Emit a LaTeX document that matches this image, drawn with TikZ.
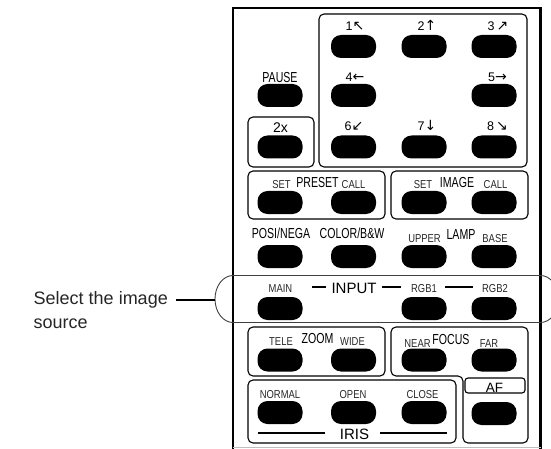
\documentclass[tikz,border=0pt]{standalone}
\usepackage{fontspec}
\setmainfont{Liberation Sans}
\newfontfamily\LabBigFam[FakeStretch=0.73]{Liberation Sans}
\newfontfamily\LabSmFam[FakeStretch=0.82]{Liberation Sans}
\newfontfamily\ArrFam[Scale=1.12]{DejaVu Sans}
\begin{document}
\begin{tikzpicture}[x=1pt,y=-1pt,
 btn/.style={rectangle, fill=black, rounded corners=10pt, minimum width=45pt, minimum height=23pt, inner sep=0pt},
 lbig/.style={inner sep=0pt, anchor=base, font=\LabBigFam\fontsize{14.5}{14.5}\selectfont},
 lsm/.style={inner sep=0pt, anchor=base, font=\LabSmFam\fontsize{11.5}{11.5}\selectfont, text=black!85},
 lnum/.style={inner sep=0pt, anchor=base, font=\fontsize{12.5}{12.5}\selectfont},
 lwide/.style={inner sep=0pt, anchor=base, font=\fontsize{15}{15}\selectfont},
 panel/.style={draw=black, line width=1.1pt, rounded corners=5pt},
 framestyle/.style={line width=2.6pt},
 band/.style={draw=black!75, line width=0.9pt},
 dashbar/.style={line width=2pt},
 lead/.style={line width=1.4pt},
 callout/.style={inner sep=0pt, font=\fontsize{18}{18}\selectfont, text=black!85}
]
\useasboundingbox (0,0) rectangle (551,449);

% outer frame
\draw[framestyle] (233,449) -- (233,8) -- (540.5,8) -- (540.5,449);
\draw[black!25, line width=0.8pt] (233,447.5) -- (540.5,447.5);

% panels
\draw[panel] (319,14) rectangle (527,167);
\draw[panel] (248,117) rectangle (314,167);
\draw[panel] (248,171) rectangle (385,219);
\draw[panel] (391,171) rectangle (528,219);
\draw[panel] (248,327) rectangle (385,376);
\draw[panel] (391,327) -- (528,327) -- (528,443) -- (463,443) -- (463,376) -- (391,376) -- cycle;
\draw[panel, rounded corners=3pt] (465,378) rectangle (525,393);
\draw[panel] (248,380) rectangle (456,443);

% input band
\begin{scope}
\clip (0,0) rectangle (551,449);
\draw[band] (233,275.5) .. controls (223.1,275.5) and (215,285.9) .. (215,299)
  .. controls (215,312.1) and (223.1,322.5) .. (233,322.5) -- (540.5,322.5)
  .. controls (550.4,322.5) and (558.5,312.1) .. (558.5,299)
  .. controls (558.5,285.9) and (550.4,275.5) .. (540.5,275.5) -- cycle;
\end{scope}

% buttons
\node[btn] (n1) at (353.5,46.5) {};
\node[btn] (n2) at (424,46.5) {};
\node[btn] (n3) at (494,46.5) {};
\node[btn] (pause) at (280,95.5) {};
\node[btn] (n4) at (353.5,95.5) {};
\node[btn] (n5) at (494,95.5) {};
\node[btn] (x2) at (280,147) {};
\node[btn] (n6) at (353.5,147) {};
\node[btn] (n7) at (424,147) {};
\node[btn] (n8) at (494,147) {};
\node[btn] (pset) at (280,202.5) {};
\node[btn] (pcall) at (353.5,202.5) {};
\node[btn] (iset) at (424,202.5) {};
\node[btn] (icall) at (494,202.5) {};
\node[btn] (posi) at (280,256.5) {};
\node[btn] (color) at (353.5,256.5) {};
\node[btn] (upper) at (424,256.5) {};
\node[btn] (base) at (494,256.5) {};
\node[btn] (main) at (280,308.5) {};
\node[btn] (rgb1) at (424,308.5) {};
\node[btn] (rgb2) at (494,308.5) {};
\node[btn] (tele) at (280,360) {};
\node[btn] (wide) at (353.5,360) {};
\node[btn] (near) at (424,360) {};
\node[btn] (far) at (494,360) {};
\node[btn] (normal) at (280,412.5) {};
\node[btn] (open) at (353.5,412.5) {};
\node[btn] (close) at (424,412.5) {};
\node[btn] (af) at (494,413.5) {};

% number labels
\node[lnum] (t1) at (355,31) {1{\ArrFam ↖}};
\node[lnum] (t2) at (427,31) {2{\ArrFam ↑}};
\node[lnum] (t3) at (498,31) {3\,{\ArrFam ↗}};
\node[lnum] (t4) at (355,82) {4{\ArrFam ←}};
\node[lnum] (t5) at (497.5,82) {5{\ArrFam →}};
\node[lnum] (t6) at (354,131) {6{\ArrFam ↙}};
\node[lnum] (t7) at (427,131) {7{\ArrFam ↓}};
\node[lnum] (t8) at (497.5,131) {8\,{\ArrFam ↘}};

% other labels
\node[lbig] (tpause) at (280,83) {PAUSE};
\node[lwide, font=\fontsize{14}{14}\selectfont] (t2x) at (280.5,133) {2x};
\node[lsm] (tpset) at (281.5,189) {SET};
\node[lbig] (tpreset) at (317.5,188) {PRESET};
\node[lsm] (tpcall) at (353.5,189) {CALL};
\node[lsm] (tiset) at (423,189) {SET};
\node[lbig] (timage) at (457,188) {IMAGE};
\node[lsm] (ticall) at (495.5,189) {CALL};
\node[lbig] (tposi) at (281,238) {POSI/NEGA};
\node[lbig] (tcolor) at (352,238) {COLOR/B\&W};
\node[lsm] (tupper) at (424.5,242) {UPPER};
\node[lbig] (tlamp) at (461,239) {LAMP};
\node[lsm] (tbase) at (495,242) {BASE};
\node[lsm] (tmain) at (280.5,292) {MAIN};
\node[lwide] (tinput) at (354,293) {INPUT};
\node[lsm] (trgb1) at (424,292) {RGB1};
\node[lsm] (trgb2) at (495,292) {RGB2};
\draw[dashbar] (312,287) -- (326,287);
\draw[dashbar] (382,287) -- (401,287);
\draw[dashbar] (445,287) -- (473,287);
\node[lsm] (ttele) at (281,345) {TELE};
\node[lbig] (tzoom) at (317.5,343) {ZOOM};
\node[lsm] (twide) at (352.5,345) {WIDE};
\node[lsm] (tnear) at (417.5,347) {NEAR};
\node[lbig] (tfocus) at (451,344) {FOCUS};
\node[lsm] (tfar) at (489,347) {FAR};
\node[lsm] (tnormal) at (280,398) {NORMAL};
\node[lsm] (topen) at (353,398) {OPEN};
\node[lsm] (tclose) at (422.5,398) {CLOSE};
\node[lwide, font=\fontsize{13.5}{13.5}\selectfont] (taf) at (494.5,392) {AF};
\node[lwide] (tiris) at (354.5,439) {IRIS};
\draw[dashbar] (258,433) -- (325,433);
\draw[dashbar] (380,433) -- (447,433);

% callout
\node[callout, anchor=base east] (sel) at (168,304) {Select the image};
\node[callout, anchor=base west] (src) at ([yshift=-24pt]sel.base west) {source};
\coordinate (ls) at (176,300);
\coordinate (le) at (215,300);
\draw[lead] (ls) -- (le);
\end{tikzpicture}
\end{document}
